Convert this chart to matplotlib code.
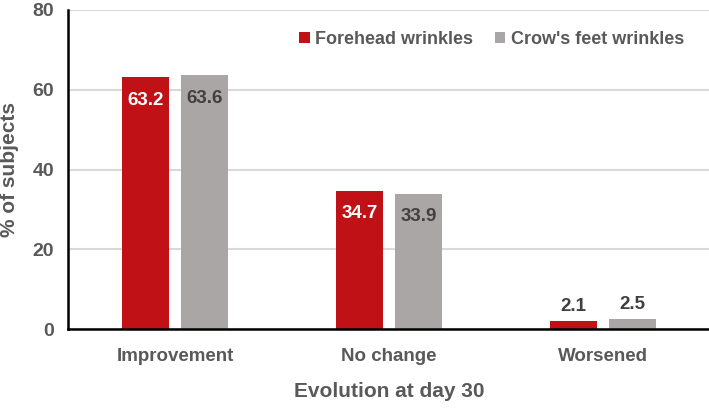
import numpy as np
import matplotlib.pyplot as plt
from matplotlib import font_manager

# --- datos ---
categories = ["Improvement", "No change", "Worsened"]
forehead = [63.2, 34.7, 2.1]
crows_feet = [63.6, 33.9, 2.5]
series_names = ["Forehead wrinkles", "Crow's feet wrinkles"]

RED = "#C01116"
GREY = "#AAA6A5"
TXT = "#595959"

names = {f.name for f in font_manager.fontManager.ttflist}
fam = "Liberation Sans Narrow" if "Liberation Sans Narrow" in names else "Liberation Sans"
plt.rcParams["font.family"] = [fam, "DejaVu Sans"]
plt.rcParams["font.weight"] = "bold"

fig = plt.figure(figsize=(7.09, 4.12), dpi=100)
ax = fig.add_axes([68 / 709, 1 - 329 / 412, 642 / 709, 319 / 412])

x = np.arange(len(categories))
w = 0.22
off = 0.137
b1 = ax.bar(x - off, forehead, w, color=RED, label=series_names[0], zorder=3)
b2 = ax.bar(x + off, crows_feet, w, color=GREY, label=series_names[1], zorder=3)

# etiquetas de valor
for bars, vals, inside_col in [(b1, forehead, "white"), (b2, crows_feet, "#404040")]:
    for r, v in zip(bars, vals):
        cx = r.get_x() + r.get_width() / 2
        if v > 10:
            ax.text(cx, v - 5.8, f"{v}", ha="center", va="center", color=inside_col,
                    fontsize=13.5, fontweight="bold", zorder=4)
        else:
            ax.text(cx, v + 1.5, f"{v}", ha="center", va="bottom", color="#404040",
                    fontsize=13.5, fontweight="bold", zorder=4)

ax.set_xlim(-0.5, 2.5)
ax.set_ylim(0, 80)
ax.set_yticks([0, 20, 40, 60, 80])
ax.set_xticks(x)
ax.set_xticklabels(categories)
ax.grid(axis="y", color="#D9D9D9", linewidth=1.5, zorder=0)
ax.tick_params(axis="both", length=0, labelsize=14, labelcolor=TXT, pad=10)
ax.tick_params(axis="x", pad=14, labelsize=13.5)
for s in ["top", "right"]:
    ax.spines[s].set_visible(False)
for s in ["left", "bottom"]:
    ax.spines[s].set_linewidth(1.8)
    ax.spines[s].set_color("black")
    ax.spines[s].set_zorder(5)

ax.set_ylabel("% of subjects", fontsize=15, color=TXT, fontweight="bold", labelpad=10)
ax.set_xlabel("Evolution at day 30", fontsize=15, color=TXT, fontweight="bold", labelpad=12)

leg = ax.legend(loc="upper right", bbox_to_anchor=(0.985, 0.985), ncol=2, frameon=False,
                fontsize=13, handlelength=0.6, handleheight=0.6, handletextpad=0.3,
                columnspacing=1.2)
for t in leg.get_texts():
    t.set_color(TXT)

fig.savefig("out.png", dpi=100)
